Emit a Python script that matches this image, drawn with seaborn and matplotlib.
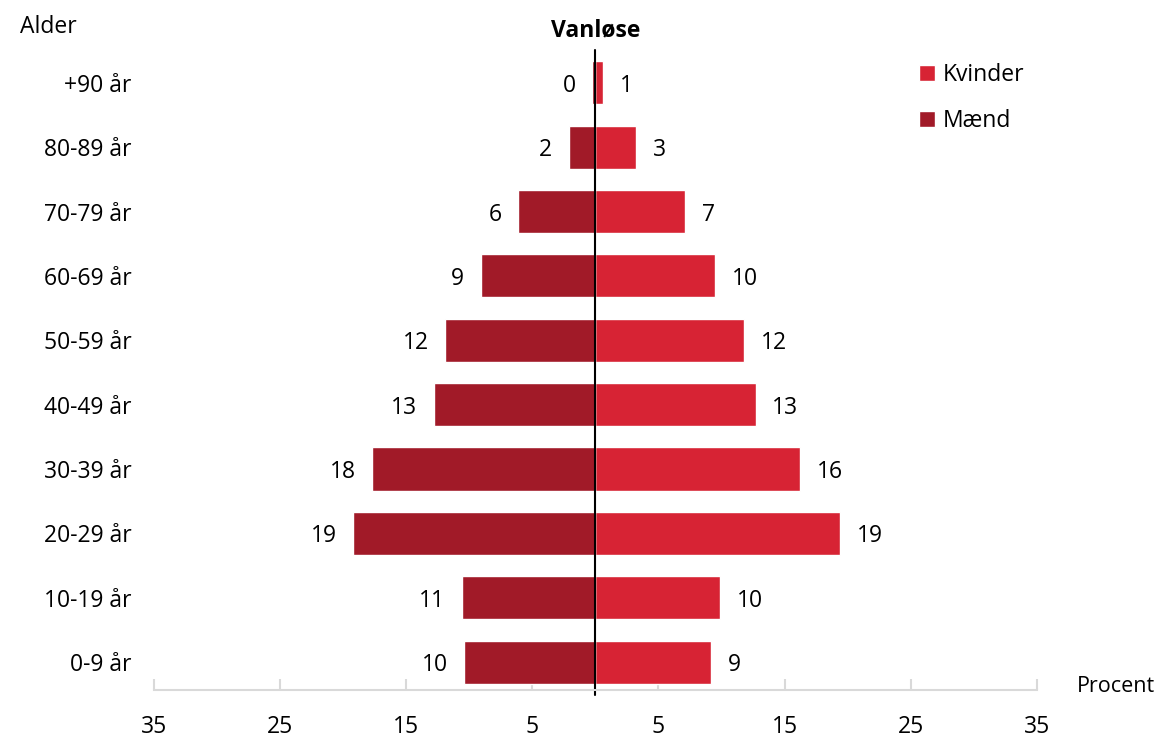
import pandas as pd
import numpy as np
import seaborn as sns
import matplotlib.pyplot as plt

# Aldersgrupper (top til bund) og andele i procent
aldre = ['+90 år', '80-89 år', '70-79 år', '60-69 år', '50-59 år',
         '40-49 år', '30-39 år', '20-29 år', '10-19 år', '0-9 år']
maend = [0.25, 2.1, 6.1, 9.1, 11.9, 12.8, 17.7, 19.2, 10.6, 10.4]
kvinder = [0.6, 3.2, 7.1, 9.5, 11.8, 12.7, 16.2, 19.4, 9.9, 9.2]
akse_ticks = [-35, -25, -15, -5, 5, 15, 25, 35]

farver = {'Kvinder': '#D72334', 'Mænd': '#A11A28'}

df = pd.concat([
    pd.DataFrame({'alder': aldre, 'køn': 'Kvinder', 'andel': kvinder}),
    pd.DataFrame({'alder': aldre, 'køn': 'Mænd', 'andel': [-v for v in maend]}),
])

sns.set_style('white')
plt.rcParams['font.family'] = ['Open Sans', 'DejaVu Sans']
plt.rcParams['text.color'] = 'black'
plt.rcParams['xtick.labelcolor'] = 'black'
plt.rcParams['ytick.labelcolor'] = 'black'
fs = 16.5

fig = plt.figure(figsize=(11.61, 7.42), dpi=100)
ax = fig.add_axes([0.1326, 0.070, 0.7605, 0.8626])

sns.barplot(data=df, y='alder', x='andel', hue='køn', hue_order=['Kvinder', 'Mænd'],
            order=aldre, palette=farver, dodge=False, width=0.67, orient='h',
            saturation=1, ax=ax)

# Værdietiketter
for cont in ax.containers:
    vals = cont.datavalues
    labels = [f'{abs(v):.0f}' for v in vals]
    txts = ax.bar_label(cont, labels=labels, padding=12, fontsize=fs)
    for t in txts:
        t.set_va('center_baseline')

ax.set_xlim(-35, 35)
ax.set_ylim(9.435, -0.51)
ax.set_xticks(akse_ticks)
ax.set_xticklabels([str(abs(t)) for t in akse_ticks], fontsize=fs)
ax.tick_params(axis='x', bottom=True, direction='in', length=8, color='#d9d9d9',
               width=1.5, pad=18)
ax.tick_params(axis='y', left=False, length=0, labelsize=fs, pad=16)
ax.set_xlabel('')
ax.set_ylabel('')

for s in ['top', 'right', 'left']:
    ax.spines[s].set_visible(False)
ax.spines['bottom'].set_color('#d9d9d9')
ax.spines['bottom'].set_linewidth(1.5)

ax.axvline(0, ymin=-0.008, ymax=1, color='black', lw=1.5, clip_on=False)

ax.legend(loc='upper left', bbox_to_anchor=(0.843, 1.012), frameon=False, fontsize=fs,
          handlelength=0.7, handleheight=0.7, handletextpad=0.35, labelspacing=0.95)

fig.text(596 / 1161, 1 - 30 / 742, 'Vanløse', ha='center', va='center',
         fontsize=fs, fontweight='bold')
fig.text(20 / 1161, 1 - 27 / 742, 'Alder', ha='left', va='center', fontsize=fs)
fig.text(1155 / 1161, 1 - 686 / 742, 'Procent', ha='right', va='center', fontsize=15.5)

fig.savefig('out.png', dpi=100)
